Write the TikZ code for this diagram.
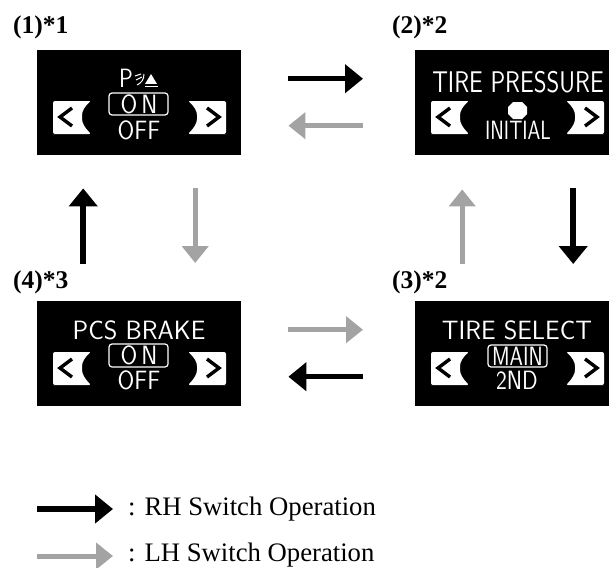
\documentclass[tikz,border=0pt]{standalone}
\usepackage{fontspec}
\setmainfont{Liberation Serif}
\usetikzlibrary{arrows.meta}
\tikzset{
  panel/.style={fill=black, inner sep=0pt, minimum height=105pt, anchor=north west},
  rharrow/.style={draw=black, line width=5.5pt, -{Triangle[length=18pt, width=28pt]}},
  lharrow/.style={draw=black!36, line width=5pt, -{Triangle[length=17pt, width=26pt]}},
  tag/.style={font=\fontsize{25.5}{26}\selectfont\bfseries, anchor=base west, inner sep=0pt},
  legend/.style={font=\fontsize{26.7}{27}\selectfont, anchor=base west, inner sep=0pt},
  lcd/.style={text=white, inner sep=0pt, yscale=1.15, font=\fontsize{23}{23}\selectfont\sffamily},
  lcdbox/.style={draw=white, line width=1.2pt, rounded corners=3pt},
  navkey/.pic={
    \fill[white, rounded corners=2pt] (16,51)--(16,84)--(18,84)--(54,84)
      .. controls (48,78) and (45,73) .. (45,67) .. controls (45,61) and (48,56) .. (54,51)--cycle;
    \draw[black, line width=3.4pt] (35,58)--(23,67)--(35,76);
  }
}
\newcommand{\navkeys}{
  \pic at (0,0) {navkey};
  \pic[xscale=-1] at (205,0) {navkey};
}
\begin{document}
\begin{tikzpicture}[x=1pt, y=-1pt]
\useasboundingbox (0,0) rectangle (609,567);

\node[panel, minimum width=204pt] (seatbelt) at (37,50) {};
\node[panel, minimum width=194pt] (pressure) at (415,50) {};
\node[panel, minimum width=194pt] (select) at (415,301) {};
\node[panel, minimum width=204pt] (brake) at (37,301) {};

\node[tag] (tagone) at (13,34) {(1)*1};
\node[tag] (tagtwo) at (392,34) {(2)*2};
\node[tag] (tagthree) at (392,288) {(3)*2};
\node[tag] (tagfour) at (13,288) {(4)*3};

% panel 1
\begin{scope}[shift={(37,50)}]
\navkeys
\node[lcd, anchor=center] (seatbeltp) at (89,28) {P};
\draw[white, line width=1pt] (98,26)--(104,24);
\draw[white, line width=1pt] (99,30)--(105,27);
\draw[white, line width=1pt] (107,24) .. controls (107,30) and (104,33) .. (100,35);
\fill[white] (114,24)--(120,34)--(108,34)--cycle;
\draw[white, line width=1.2pt] (108,36.5)--(121,36.5);
\draw[lcdbox] (72,43) rectangle (131,65);
\node[lcd, xscale=1.05] (seatbelton) at (102,54) {O\,N};
\node[lcd, xscale=1.05] (seatbeltoff) at (102,80) {OFF};
\end{scope}

% panel 2
\begin{scope}[shift={(415,50)}]
\navkeys
\node[lcd, xscale=1.065, yscale=1.13] (pressuretitle) at (103,32) {TIRE PRESSURE};
\fill[white] (98,52)--(107,52)--(112,57)--(112,64)--(107,69)--(98,69)--(93,64)--(93,57)--cycle;
\node[lcd, xscale=.89] (pressureinit) at (103,80) {INITIAL};
\end{scope}

% panel 3
\begin{scope}[shift={(415,301)}]
\navkeys
\node[lcd, xscale=1.13] (selecttitle) at (102,29) {TIRE SELECT};
\draw[lcdbox] (73,44) rectangle (132,66);
\node[lcd, xscale=.93] (selectmain) at (102.5,55) {MAIN};
\node[lcd] (selectsecond) at (102,79) {2ND};
\end{scope}

% panel 4
\begin{scope}[shift={(37,301)}]
\navkeys
\node[lcd, xscale=1.13] (braketitle) at (102,29) {PCS BRAKE};
\draw[lcdbox] (72,43) rectangle (131,66);
\node[lcd, xscale=1.05] (brakeon) at (102,54) {O\,N};
\node[lcd, xscale=1.05] (brakeoff) at (102,79) {OFF};
\end{scope}

\draw[rharrow, shorten <=47pt, shorten >=52pt] ([yshift=24]seatbelt.east) -- ([yshift=24]pressure.west);
\draw[lharrow, shorten <=52pt, shorten >=47pt] ([yshift=-23]pressure.west) -- ([yshift=-23]seatbelt.east);
\draw[rharrow, shorten <=33pt, shorten >=37pt] ([xshift=61]pressure.south) -- ([xshift=61]select.north);
\draw[lharrow, shorten <=37pt, shorten >=34pt] ([xshift=-50]select.north) -- ([xshift=-50]pressure.south);
\draw[rharrow, shorten <=52pt, shorten >=47pt] ([yshift=-23]select.west) -- ([yshift=-23]brake.east);
\draw[lharrow, shorten <=47pt, shorten >=52pt] ([yshift=24]brake.east) -- ([yshift=24]select.west);
\draw[rharrow, shorten <=37pt, shorten >=33pt] ([xshift=-56]brake.north) -- ([xshift=-56]seatbelt.south);
\draw[lharrow, shorten <=33pt, shorten >=38pt] ([xshift=56]seatbelt.south) -- ([xshift=56]brake.north);

% legend
\coordinate (rhtail) at (37,509);
\coordinate (rhhead) at (113,509);
\coordinate (lhtail) at (37,556);
\coordinate (lhhead) at (113,556);
\draw[rharrow] (rhtail) -- (rhhead);
\draw[lharrow] (lhtail) -- (lhhead);
\node[legend] (rhtext) at (128,515.5) {: RH Switch Operation};
\node[legend] (lhtext) at (128,561) {: LH Switch Operation};
\end{tikzpicture}
\end{document}
